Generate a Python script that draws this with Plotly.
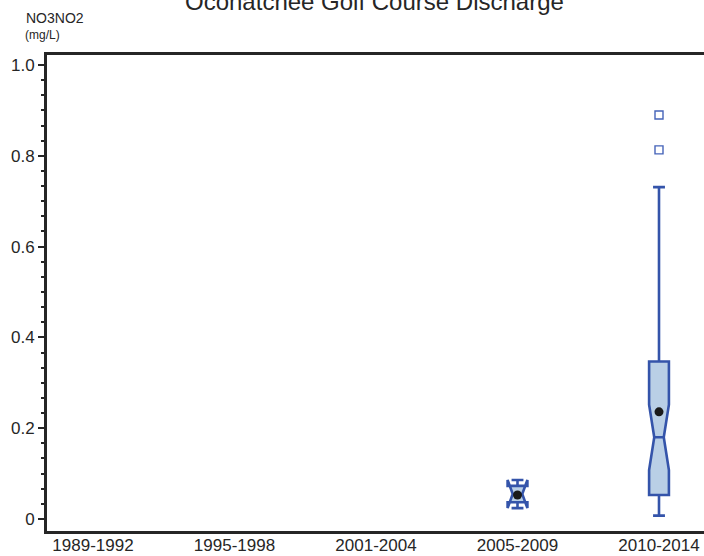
import plotly.graph_objects as go

# periods on the x axis
periods = ["1989-1992", "1995-1998", "2001-2004", "2005-2009", "2010-2014"]

# box statistics, NO3NO2 (mg/L)
box_periods = ["2005-2009", "2010-2014"]
q1 = [0.037, 0.053]
median = [0.055, 0.18]
q3 = [0.073, 0.347]
lower_whisker = [0.037, 0.0075]
upper_whisker = [0.073, 0.731]
notch_span = [0.031, 0.072]
means = [0.053, 0.236]

# outliers
outlier_periods = ["2010-2014", "2010-2014"]
outlier_values = [0.890, 0.813]

y_tickvals = [0, 0.2, 0.4, 0.6, 0.8, 1.0]
y_ticktext = ["0", "0.2", "0.4", "0.6", "0.8", "1.0"]

blue = "rgb(52,84,170)"
ink = "#262626"
font = "Liberation Sans, Arial, sans-serif"

# plot area size in px (used to place the text around it)
plot_h = 556 - 55 - 25
plot_w = 704 - 47

fig = go.Figure()

fig.add_trace(go.Box(
    x=box_periods,
    q1=q1, median=median, q3=q3,
    lowerfence=lower_whisker, upperfence=upper_whisker,
    notchspan=notch_span, notched=True, notchwidth=0.26,
    boxpoints=False,
    width=0.14, whiskerwidth=0.6,
    fillcolor="rgb(185,207,230)",
    line=dict(color=blue, width=2.6),
    hoverinfo="skip",
))

fig.add_trace(go.Scatter(
    x=box_periods, y=means, mode="markers",
    marker=dict(color="#1a1a1a", size=9),
    hoverinfo="skip",
))

fig.add_trace(go.Scatter(
    x=outlier_periods, y=outlier_values, mode="markers",
    marker=dict(symbol="square-open", color="rgb(70,100,185)", size=8,
                line=dict(width=1.4)),
    hoverinfo="skip",
))

fig.update_layout(
    width=704, height=556,
    margin=dict(l=47, r=0, t=55, b=25),
    paper_bgcolor="white", plot_bgcolor="white",
    showlegend=False,
    font=dict(family=font, size=17, color=ink),
    xaxis=dict(
        type="category", categoryorder="array", categoryarray=periods,
        range=[-0.325, 4.318],
        showline=True, linecolor=ink, linewidth=3, mirror=True,
        ticks="", showgrid=False, zeroline=False,
        tickfont=dict(size=17), ticklabelstandoff=-3,
    ),
    yaxis=dict(
        range=[-0.0264, 1.022],
        tickvals=y_tickvals, ticktext=y_ticktext,
        showline=True, linecolor=ink, linewidth=3,
        ticks="outside", ticklen=6, tickwidth=2, tickcolor=ink,
        minor=dict(tick0=0, dtick=0.2 / 6, ticks="outside", ticklen=3,
                   tickwidth=2, tickcolor=ink, showgrid=False),
        showgrid=False, zeroline=False,
        tickfont=dict(size=17),
    ),
    annotations=[
        # chart title, partly above the top edge as in the original
        dict(text="Oconatchee Golf Course Discharge", xref="paper", yref="paper",
             x=(374 - 47) / plot_w, y=1, xanchor="center", yanchor="middle",
             yshift=54, showarrow=False, font=dict(size=24, color=ink)),
        dict(text="NO3NO2", xref="paper", yref="paper", x=(24 - 47) / plot_w,
             y=1 + 27 / plot_h, xanchor="left", yanchor="bottom", showarrow=False,
             font=dict(size=14, color=ink)),
        dict(text="(mg/L)", xref="paper", yref="paper", x=(23 - 47) / plot_w,
             y=1 + 11 / plot_h, xanchor="left", yanchor="bottom", showarrow=False,
             font=dict(size=12, color=ink)),
    ],
)

# the page's default body margin would push the chart off the window
fig.write_html("out.html",
               config={"displayModeBar": False},
               post_script="document.body.style.margin='0';"
                           "document.body.style.overflow='hidden';")
